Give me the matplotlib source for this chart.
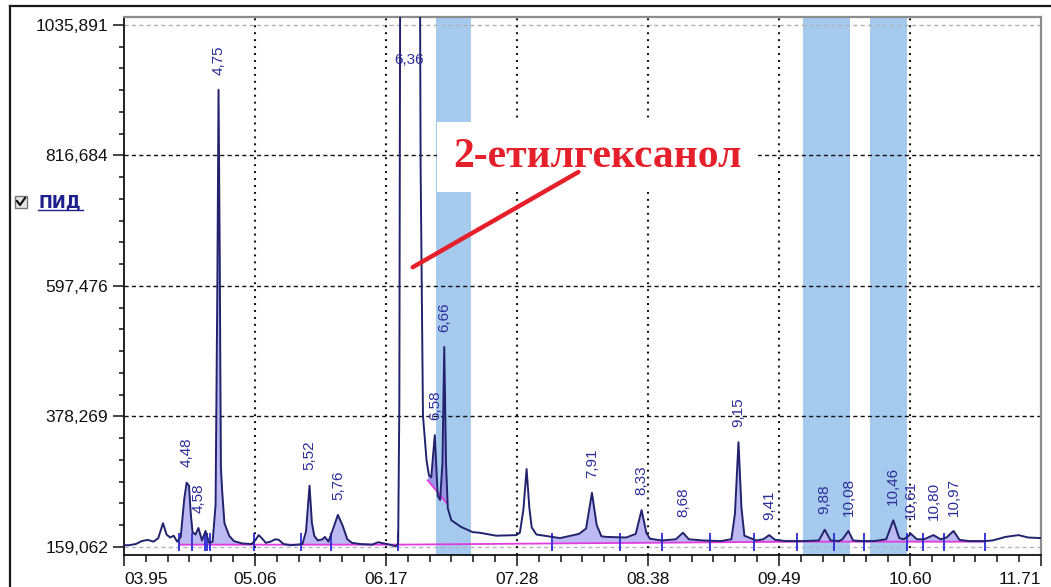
import numpy as np
import matplotlib
matplotlib.use("Agg")
import matplotlib.pyplot as plt
import matplotlib.transforms as mtransforms
from matplotlib.lines import Line2D
from matplotlib.patches import Rectangle
from matplotlib.ticker import FixedLocator

plt.rcParams['font.family'] = ['Liberation Sans', 'DejaVu Sans']
plt.rcParams['lines.scale_dashes'] = False

# FID chromatogram: retention time (min) and detector signal
trace_time = [
    3.95, 3.99, 4.05, 4.10, 4.15, 4.20, 4.24, 4.28, 4.31, 4.34, 4.37, 4.40,
    4.43, 4.46, 4.48, 4.50, 4.515, 4.53, 4.555, 4.58, 4.61, 4.64, 4.67, 4.70,
    4.725, 4.74, 4.75, 4.76, 4.77, 4.78, 4.80, 4.84, 4.88, 4.95, 5.03, 5.06,
    5.09, 5.12, 5.15, 5.19, 5.23, 5.26, 5.30, 5.36, 5.42, 5.46, 5.49, 5.52,
    5.54, 5.56, 5.59, 5.63, 5.65, 5.68, 5.72, 5.76, 5.80, 5.84, 5.88, 5.95,
    6.05, 6.10, 6.20, 6.25, 6.27, 6.28, 6.29, 6.36, 6.45, 6.46, 6.48, 6.51,
    6.53, 6.55, 6.58, 6.605, 6.625, 6.645, 6.66, 6.675, 6.69, 6.72, 6.80, 6.90,
    6.96, 7.10, 7.27, 7.30, 7.33, 7.357, 7.38, 7.40, 7.44, 7.64, 7.80, 7.86,
    7.91, 7.95, 7.99, 8.03, 8.20, 8.28, 8.33, 8.37, 8.40, 8.50, 8.62, 8.68,
    8.73, 8.85, 9.00, 9.09, 9.12, 9.15, 9.175, 9.20, 9.30, 9.36, 9.41, 9.46,
    9.55, 9.70, 9.83, 9.88, 9.93, 10.00, 10.03, 10.08, 10.12, 10.20, 10.30, 10.40,
    10.46, 10.51, 10.55, 10.61, 10.66, 10.72, 10.80, 10.86, 10.91, 10.97, 11.02, 11.10,
    11.24, 11.30, 11.41, 11.52, 11.60, 11.71,
]
trace_signal = [
    162, 162, 164, 169, 171, 168, 174, 199, 180, 175, 178, 168,
    176, 240, 267, 262, 215, 184, 180, 191, 170, 186, 166, 168,
    230, 600, 927, 650, 293, 255, 199, 178, 169, 165, 164, 170,
    179, 173, 166, 168, 172, 171, 164, 162, 163, 164, 185, 262,
    200, 178, 170, 172, 176, 168, 190, 213, 195, 172, 166, 164,
    163, 167, 163, 160, 165, 400, 1400, 1500, 1400, 800, 380, 305,
    280, 276, 347, 245, 238, 300, 495, 300, 224, 204, 193, 184,
    183, 178, 179, 183, 222, 290, 225, 192, 180, 174, 181, 190,
    250, 196, 177, 176, 175, 181, 221, 183, 173, 170, 172, 183,
    172, 170, 169, 172, 215, 335, 225, 178, 170, 172, 179, 171,
    169, 169, 170, 188, 170, 169, 172, 186, 170, 169, 169, 172,
    204, 174, 172, 181, 172, 172, 179, 172, 175, 186, 171, 169,
    169, 170, 176, 179, 175, 174,
]

# Labelled peaks (retention times)
peak_times = [4.48, 4.58, 4.75, 5.52, 5.76, 6.58, 6.66, 7.91, 8.33, 8.68,
              9.15, 9.41, 9.88, 10.08, 10.46, 10.61, 10.80, 10.97]
peak_labels = ['4,48', '4,58', '4,75', '5,52', '5,76', '6,58', '6,66', '7,91',
               '8,33', '8,68', '9,15', '9,41', '9,88', '10,08', '10,46',
               '10,61', '10,80', '10,97']
main_peak_time = 6.36
main_peak_label = '6,36'

# Integration: peak windows, drop baseline and tangent skim
integration_windows = [
    (4.415, 4.525), (4.525, 4.635), (4.677, 5.049), (5.446, 5.70),
    (5.70, 5.95), (7.576, 8.151), (8.151, 8.506), (8.506, 8.912),
    (8.912, 9.284), (9.284, 9.647), (9.647, 9.96), (9.96, 10.214),
    (10.214, 10.577), (10.577, 10.712), (10.712, 10.89), (10.89, 11.237),
]
baseline_time = [4.415, 5.05, 6.27, 7.58, 9.65, 11.237]
baseline_signal = [163, 163, 163, 165, 168, 168]
skim_time = [6.52, 6.68]
skim_signal = [271, 233]
event_times = [4.415, 4.525, 4.635, 4.652, 4.677, 5.049, 5.446, 5.70, 6.266,
               7.576, 8.151, 8.506, 8.912, 9.284, 9.647, 9.96, 10.214, 10.577,
               10.712, 10.89, 11.237]

# Highlighted retention windows
highlight_windows = [(6.593, 6.889), (9.698, 10.093), (10.262, 10.580)]

y_ticks = [159.062, 378.269, 597.476, 816.684, 1035.891]
y_tick_labels = ['159,062', '378,269', '597,476', '816,684', '1035,891']
x_ticks = [3.95, 5.0586, 6.1671, 7.2757, 8.3843, 9.4929, 10.6014, 11.71]
x_tick_labels = ['03.95', '05.06', '06.17', '07.28', '08.38', '09.49', '10.60', '11.71']

compound_name = '2-етилгексанол'
compound_text_pos = (7.957, 814)
compound_arrow = [(6.393, 629), (7.796, 789)]

detector_name = 'ПИД'

W, H = 1051, 587
fig = plt.figure(figsize=(W / 100, H / 100), dpi=100)
fig.patch.set_facecolor('white')


def fx(px):
    return px / W


def fy(py):
    return 1 - py / H


ax = fig.add_axes([fx(124), fy(555), fx(1041 - 124), (555 - 17) / H])
ax.set_xlim(3.95, 11.71)
ax.set_ylim(145.6, 1049.3)
ax.set_facecolor('white')

# highlighted windows
for a, b in highlight_windows:
    ax.axvspan(a, b, color='#a6c9ee', lw=0, zorder=0.5)

# grid
dash = (0, (3.0, 2.3))
for i, yv in enumerate(y_ticks):
    if i == 0:
        col = '#b4b4c4'
    elif i == len(y_ticks) - 1:
        col = '#b0b0b0'
    else:
        col = '#111111'
    ax.axhline(yv, color=col, lw=1.0, ls=dash, zorder=1)
for xv in x_ticks[1:-1]:
    ax.axvline(xv, color='#111111', lw=1.5, ls=(0, (1.4, 3.6)), zorder=1)

tt = np.asarray(trace_time)
ss = np.asarray(trace_signal)

# integrated areas
for a, b in integration_windows:
    g = np.linspace(a, b, 200)
    ax.fill_between(g, np.interp(g, tt, ss), np.interp(g, baseline_time, baseline_signal),
                    color='#bdb9f2', lw=0, zorder=2)
g = np.linspace(skim_time[0], skim_time[1], 200)
ax.fill_between(g, np.interp(g, tt, ss), np.interp(g, skim_time, skim_signal),
                color='#9a96e4', lw=0, zorder=2)

ax.plot(baseline_time, baseline_signal, color='#e23be0', lw=1.3, zorder=3)
ax.plot(skim_time, skim_signal, color='#e23be0', lw=1.3, zorder=3)
ax.vlines(event_times, 152, 182, color='#2a2ad8', lw=1.3, zorder=3)

ax.plot(tt, ss, color='#22226e', lw=1.4, zorder=4, solid_joinstyle='round')

# retention time labels
for t, lab in zip(peak_times, peak_labels):
    h = np.interp(t, tt, ss)
    ax.annotate(lab, xy=(t, h), xytext=(0, 11), textcoords='offset points',
                rotation=90, ha='center', va='bottom', fontsize=11,
                color='#2d2d9a', zorder=5)
trans = mtransforms.blended_transform_factory(ax.transData, ax.transAxes)
ax.text(main_peak_time, 0.92, main_peak_label, transform=trans, ha='center',
        va='center', fontsize=11, color='#2d2d9a', zorder=5)

# compound call-out
ax.text(*compound_text_pos, compound_name, family=['Liberation Serif', 'DejaVu Serif'],
        fontweight='bold', fontsize=30, color='#e5202b', ha='center', va='center',
        zorder=6, bbox=dict(boxstyle='square,pad=0.38', fc='white', ec='none'))
ax.plot([p[0] for p in compound_arrow], [p[1] for p in compound_arrow],
        color='#e5202b', lw=3.2, zorder=6, solid_capstyle='round')

# axes and ticks
ax.set_yticks(y_ticks)
ax.set_yticklabels(y_tick_labels)
ax.set_xticks(x_ticks)
ax.set_xticklabels(x_tick_labels)
ystep = y_ticks[1] - y_ticks[0]
ax.yaxis.set_minor_locator(FixedLocator(
    [v for v in np.arange(y_ticks[0], y_ticks[-1], ystep / 6)]))
xs = (x_ticks[-1] - x_ticks[0]) / (len(x_ticks) - 1)
ax.xaxis.set_minor_locator(FixedLocator(
    [v for v in np.arange(x_ticks[0], x_ticks[-1] + 1e-6, xs / 6)]))
ax.tick_params(axis='y', which='major', length=8, width=1.1, pad=3.5,
               labelsize=12.5, colors='#111111')
ax.tick_params(axis='y', which='minor', length=3.8, width=1.1, colors='#111111')
ax.tick_params(axis='x', which='major', length=8, width=1.1, pad=4.5,
               labelsize=12.5, colors='#111111')
ax.tick_params(axis='x', which='minor', length=4.8, width=1.1, colors='#111111')
xl = ax.get_xticklabels()
xl[0].set_ha('left')
xl[-1].set_ha('right')

for side in ('left', 'bottom'):
    ax.spines[side].set_color('#111111')
    ax.spines[side].set_linewidth(1.3)
for side in ('top', 'right'):
    ax.spines[side].set_color('#8c8c8c')
    ax.spines[side].set_linewidth(1.6)

# outer panel frame
fig.add_artist(Line2D([fx(10), fx(10)], [fy(6), 0], color='#1a1a1a', lw=1.6))
fig.add_artist(Line2D([fx(10), 1], [fy(6), fy(6)], color='#1a1a1a', lw=1.6))

# detector checkbox
fig.add_artist(Rectangle((fx(15), fy(208)), fx(12), 12 / H, fc='#e6e6e6',
                         ec='#777777', lw=1.0))
fig.add_artist(Line2D([fx(17), fx(20), fx(25)], [fy(201), fy(205), fy(198)],
                      color='#111111', lw=1.6))
fig.text(fx(38), fy(202), detector_name, fontsize=12, fontweight='bold',
         family=['DejaVu Sans'], color='#1e1e8c', ha='left', va='center')
fig.add_artist(Line2D([fx(38), fx(83)], [fy(210), fy(210)], color='#1e1e8c', lw=1.0))

fig.savefig('out.png', dpi=100, facecolor='white')
